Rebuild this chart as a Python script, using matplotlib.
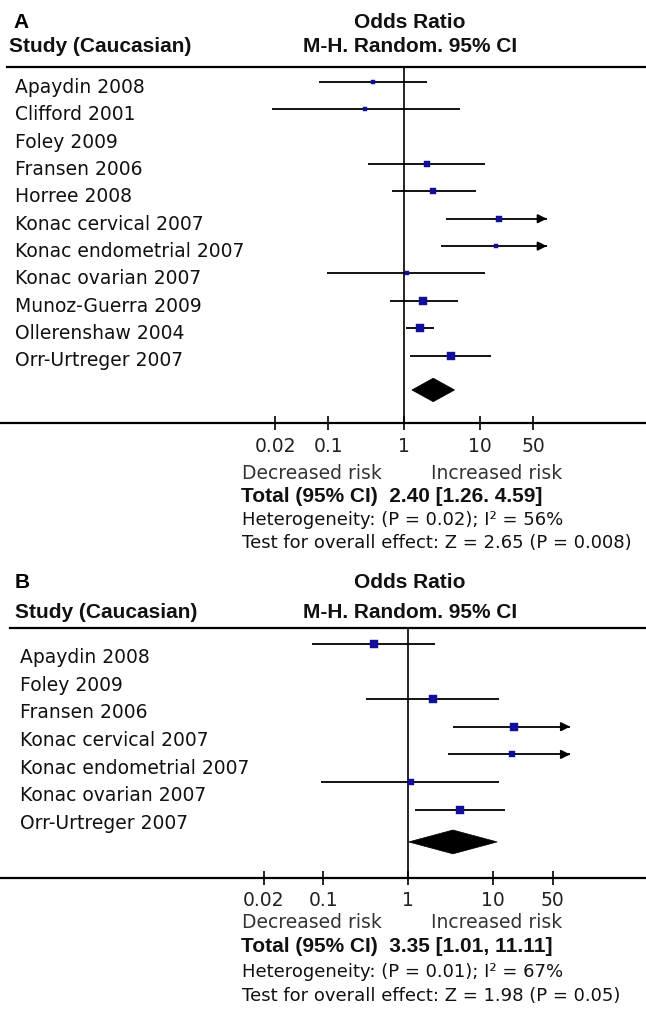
import numpy as np
import matplotlib
matplotlib.use("Agg")
import matplotlib.pyplot as plt
from matplotlib.patches import Polygon
from matplotlib.ticker import NullLocator
from matplotlib.transforms import blended_transform_factory

W, H = 646, 1015
NAN = np.nan

# ---- panel A data ----
studies_a = ["Apaydin 2008", "Clifford 2001", "Foley 2009", "Fransen 2006", "Horree 2008",
             "Konac cervical 2007", "Konac endometrial 2007", "Konac ovarian 2007",
             "Munoz-Guerra 2009", "Ollerenshaw 2004", "Orr-Urtreger 2007"]
or_a = [0.39, 0.30, NAN, 1.97, 2.41, 17.5, 15.9, 1.07, 1.78, 1.61, 4.08]
lo_a = [0.076, 0.018, NAN, 0.336, 0.683, 3.54, 3.01, 0.095, 0.65, 1.04, 1.19]
hi_a = [1.97, 5.4, NAN, 11.5, 8.77, 86.6, 84.0, 11.5, 5.04, 2.46, 13.7]
weight_a = [4.8, 4.8, NAN, 9.7, 9.7, 11.7, 4.2, 6.2, 14.0, 17.4, 17.4]
total_a = (2.40, 1.26, 4.59)
total_text_a = "Total (95% CI)  2.40 [1.26. 4.59]"
het_text_a = "Heterogeneity: (P = 0.02); I\u00b2 = 56%"
test_text_a = "Test for overall effect: Z = 2.65 (P = 0.008)"

# ---- panel B data ----
studies_b = ["Apaydin 2008", "Foley 2009", "Fransen 2006", "Konac cervical 2007",
             "Konac endometrial 2007", "Konac ovarian 2007", "Orr-Urtreger 2007"]
or_b = [0.39, NAN, 1.94, 17.5, 16.5, 1.07, 4.06]
lo_b = [0.073, NAN, 0.32, 3.33, 2.9, 0.093, 1.2]
hi_b = [2.04, NAN, 11.8, 92.0, 93.0, 11.8, 13.7]
weight_b = [17.4, NAN, 18.5, 21.9, 13.4, 10.3, 18.5]
total_b = (3.35, 1.01, 11.11)
total_text_b = "Total (95% CI)  3.35 [1.01, 11.11]"
het_text_b = "Heterogeneity: (P = 0.01); I\u00b2 = 67%"
test_text_b = "Test for overall effect: Z = 1.98 (P = 0.05)"

tick_vals = [0.02, 0.1, 1, 10, 50]
tick_labels = ["0.02", "0.1", "1", "10", "50"]

NAVY = "#10109a"
REG = "DejaVu Sans"
BOLD = "Liberation Sans"


def fy(px):
    return 1 - px / H


def fx(px):
    return px / W


def panel(fig, letter, studies, ors, los, his, weights, total, txt_total, txt_het, txt_test, L):
    ax = fig.add_axes([0, fy(L["axis"]), 1, (L["axis"] - L["top"]) / H])
    ax.set_xscale("log")
    ax.set_xlim(10 ** ((0 - L["one"]) / L["dec"]), 10 ** ((W - L["one"]) / L["dec"]))
    ax.set_ylim((L["axis"] - L["first"]) / L["row"], (L["top"] - L["first"]) / L["row"])
    for s in ("left", "right", "top"):
        ax.spines[s].set_visible(False)
    ax.spines["bottom"].set_linewidth(1.6)
    ax.plot([fx(L["rule_x"]), 1], [1, 1], color="k", lw=1.6,
            transform=ax.transAxes, clip_on=False)
    ax.axvline(1, color="k", lw=1.2)
    ax.set_yticks([])
    ax.set_xticks(tick_vals)
    ax.set_xticklabels(tick_labels, fontsize=13.5, family=REG, color="#222222")
    ax.xaxis.set_minor_locator(NullLocator())
    ax.tick_params(axis="x", direction="inout", length=10, width=1.2, pad=5)

    lab = blended_transform_factory(ax.transAxes, ax.transData)
    clip = L["clip"]
    for i, name in enumerate(studies):
        ax.text(fx(L["lab_x"]), i + L["dy"], name, transform=lab, va="center",
                ha="left", fontsize=13.5, family=REG, color="#111111")
        if np.isnan(ors[i]):
            continue
        hi = min(his[i], clip)
        ax.plot([los[i], hi], [i, i], color="k", lw=1.3, solid_capstyle="butt")
        if his[i] > clip:
            ax.annotate("", xy=(clip, i), xytext=(clip / 1.15, i),
                        arrowprops=dict(arrowstyle="-|>", color="k", lw=1.3,
                                        mutation_scale=13, shrinkA=0, shrinkB=0))
        ms = 1.9 * np.sqrt(weights[i]) * 0.72
        ax.plot(ors[i], i, marker="s", ms=ms, color=NAVY, mec=NAVY, mew=0.3)

    est, lo, hi = total
    yt = L["diamond"]
    ax.add_patch(Polygon([(lo, yt), (est, yt - 0.43), (hi, yt), (est, yt + 0.43)],
                         closed=True, fc="k", ec="k", lw=0.5))

    # header
    fig.text(fx(L["let_x"]), fy(L["let_y"]), letter, fontsize=15, family=BOLD,
             weight="bold", va="center", ha="left")
    fig.text(fx(L["study_x"]), fy(L["head2_y"]), "Study (Caucasian)", fontsize=15,
             family=BOLD, weight="bold", va="center", ha="left", color="#111111")
    fig.text(fx(410), fy(L["head1_y"]), "Odds Ratio", fontsize=15, family=BOLD,
             weight="bold", va="center", ha="center", color="#111111")
    fig.text(fx(410), fy(L["head2_y"]), "M-H. Random. 95% CI", fontsize=15, family=BOLD,
             weight="bold", va="center", ha="center", color="#111111")

    # footer
    by = L["foot"]
    fig.text(fx(242), fy(by[0]), "Decreased risk", fontsize=13.5, family=REG,
             va="center", ha="left", color="#333333")
    fig.text(fx(431), fy(by[0]), "Increased risk", fontsize=13.5, family=REG,
             va="center", ha="left", color="#333333")
    fig.text(fx(241), fy(by[1]), txt_total, fontsize=15, family=BOLD, weight="bold",
             va="center", ha="left", color="#111111")
    fig.text(fx(242), fy(by[2]), txt_het, fontsize=13, family=REG,
             va="center", ha="left", color="#111111")
    fig.text(fx(242), fy(by[3]), txt_test, fontsize=13, family=REG,
             va="center", ha="left", color="#111111")
    return ax


fig = plt.figure(figsize=(W / 100, H / 100), dpi=100)
fig.patch.set_facecolor("white")

layout_a = dict(top=67, axis=422.7, first=82, row=27.35, one=404.3, dec=76, clip=75,
                diamond=11.26, dy=0.2, lab_x=15, rule_x=7, let_x=13, let_y=22,
                study_x=9, head1_y=23, head2_y=47, foot=[473, 497, 520, 543])
layout_b = dict(top=628, axis=877.5, first=643.6, row=27.7, one=408.3, dec=85, clip=80,
                diamond=7.16, dy=0.5, lab_x=20, rule_x=10, let_x=15, let_y=583,
                study_x=15, head1_y=582, head2_y=612, foot=[923, 947, 972, 996])

panel(fig, "A", studies_a, or_a, lo_a, hi_a, weight_a, total_a,
      total_text_a, het_text_a, test_text_a, layout_a)
panel(fig, "B", studies_b, or_b, lo_b, hi_b, weight_b, total_b,
      total_text_b, het_text_b, test_text_b, layout_b)

fig.savefig("out.png", dpi=100)
